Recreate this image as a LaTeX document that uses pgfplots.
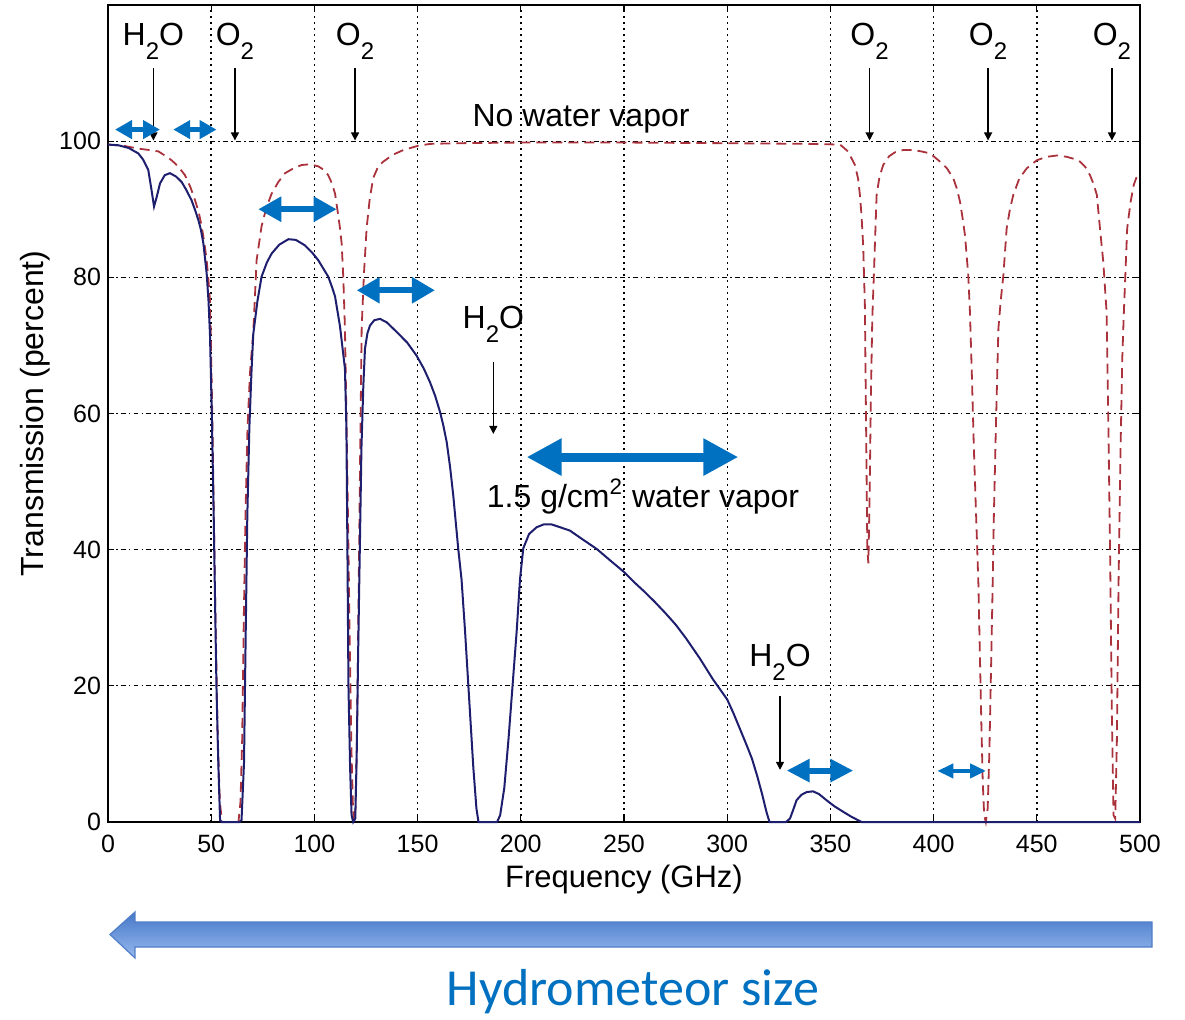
\documentclass[border=0pt]{standalone}
\usepackage{pgfplots}
\pgfplotsset{compat=1.18}
\usepackage{fontspec}
\setmainfont{Liberation Sans}
\newfontfamily\carlito{Carlito}
\usetikzlibrary{arrows.meta}
\definecolor{navyc}{RGB}{30,30,110}
\definecolor{redc}{RGB}{170,50,60}
\definecolor{obl}{RGB}{0,112,192}
\newcommand{\HtwoO}{H\raisebox{-7pt}{\fontsize{12}{12}\selectfont 2}O}
\newcommand{\Otwo}{O\raisebox{-7pt}{\fontsize{12}{12}\selectfont 2}}
\pgfplotstableread{
x y
0 99.5
5 99.4
10 99.0
14.7 98.2
17 97.3
19.5 95.8
21 93.0
22.3 90.4
23.6 91.8
25.2 93.8
27.5 95.0
30 95.3
33 94.8
35.7 94.0
38 92.8
40.5 91.3
42.3 89.8
43.8 88.4
45 87
46.2 85
47.8 80.6
48.7 76.5
49.4 71.7
50.3 60
51.2 45
52 30
52.6 19
53.5 8
54.3 0.3
55 0
63.8 0
64.7 0.3
65.9 8.7
66.7 27.3
67.5 45
68.5 58
69.5 66
70.4 71.7
72.4 76.5
74.4 80.1
77 82.2
79.3 83.5
83 84.8
87.4 85.6
91 85.5
95.4 84.7
99 83.6
101.9 82.5
104.5 81.2
106.7 80.1
108.5 78.6
110 77.2
112.4 72.8
114.8 66.6
115.5 58
116 40
116.5 20
117.3 8
118 1
118.8 0
119.8 0.5
120.5 10
121.2 25
122 40
122.8 55
123.7 64
124.5 69.5
125.7 71.8
126.9 72.9
129 73.7
131.8 73.9
135 73.4
139.8 72
145 70.4
149.5 68.5
153 66.6
156 64.6
158.5 62.6
160.9 60.2
162.5 58.2
164.1 55.8
165.8 52
167.3 47.9
168.5 44
169.7 40.1
171.3 35.6
173 28
175 18
177 8
178.5 2
179.5 0
188.5 0
190 1
192 5
194 12
196 20
198 28
199.6 35.6
201.2 40.2
204 42.3
207.7 43.3
211 43.7
215 43.7
219 43.3
223.8 42.8
230 41.5
236.8 40.1
243 38.5
249.7 36.8
255 35.2
260 33.8
265 32.3
270 30.7
275 29.0
280 27.0
286.8 24
293 21
300 18
303 16
306 13.8
309 11.6
312 9.3
314.5 6.8
317 4
319 1.5
320.5 0
328.5 0
330.4 0.5
332 1.8
333.6 3.2
336 4
338.5 4.4
341.6 4.5
344.5 4.1
348.1 3.2
352 2.3
356.2 1.5
360 0.8
365.1 0
500 0
}\wetdata
\pgfplotstableread{
x y
0 99.5
8 99.3
14.7 98.9
20 98.7
24.4 98.5
27.5 97.9
30.8 97.2
34 96.3
37.3 95.0
40 93.2
42.2 91.3
44 89.5
45.4 87.5
46.7 85
47.8 82.5
48.7 79.5
49.4 76.6
49.8 71.7
50.5 60
51.3 45
52.2 28
53.2 12
54.2 3
55.2 0
63.2 0
64.2 3
65 12
65.8 30
66.6 45
67.6 58
68.8 66
70.4 72
72 82.5
74.4 87.5
76.8 90.3
79.3 92.3
82.5 94
85.8 95.3
89.8 96.0
93.8 96.5
97.8 96.6
101.9 96.3
104.5 95.8
106.7 95
108.5 93.8
110 92.3
111.6 89
112.4 87.2
113.2 85
114 80
114.8 72.5
115.6 58
116.4 42
117.2 25
118 10
118.7 2
119.3 0
119.9 2
120.6 12
121.3 30
122.1 52
122.9 72.5
124 80.5
125.3 87.2
126.8 91.5
128.5 94.6
130.8 96.2
133.4 97
138 98
143.1 98.7
150 99.3
156 99.6
170 99.7
200 99.8
250 99.8
300 99.7
340 99.6
354.7 99.5
358.5 98.5
361.9 96.5
363.4 94.5
364.3 92.1
365.1 89
365.9 84.5
366.7 76
367.3 58
367.9 40
368.4 38
369 48
369.6 62
370.3 74
371 79.8
371.7 86
372.4 92.1
373.8 94.8
375.6 96.5
378.5 97.8
381.5 98.4
385.3 98.7
390 98.7
394 98.5
398.3 98.2
403.1 97
406.5 96
409.6 94.5
411.3 93
412.8 91.1
414 88.8
415.2 86.2
416.8 80.3
417.6 75
418.6 65
419.5 55
420.6 45
421.7 35
422.4 25
423.1 15
423.8 6
424.5 1
425.3 0
426.2 2
427 10
427.8 22
428.5 33
429.2 45
430.1 57
431.4 72.5
432.5 76.5
433.8 80.3
435.4 87.2
437 90
438.6 92.1
441.5 94.5
445.1 96
450 97.2
454.8 97.7
459.8 97.9
464.5 97.7
468 97.4
470.9 97
473.5 96.2
475.8 95
477.5 93.7
479.1 92.1
480.6 87.2
482.2 82.3
483.8 75
484.6 60
485.5 40
486.4 15
487.2 1
488 0.5
488.8 12
489.6 35
490.6 55
491.4 68
492.2 75
493.8 87.2
495.4 91
497 93.6
498.2 94.6
499.4 95
500 95.2
}\drydata
\begin{document}
\begin{tikzpicture}
\begin{axis}[name=ax, scale only axis, width=516pt, height=408.5pt,
  xmin=0, xmax=500, ymin=0, ymax=120,
  xtick={0,50,...,500}, ytick={0,20,...,100},
  grid=major,
  x grid style={black, line width=0.7pt, dash pattern=on 0.8pt off 2.2pt},
  y grid style={black, line width=0.6pt, dash pattern=on 2.4pt off 1.6pt on 0.8pt off 1.6pt},
  tick align=inside, major tick length=3pt,
  axis line style={line width=0.6pt},
  every tick/.style={black, line width=0.6pt},
  tick label style={font=\fontsize{12.5}{14}\selectfont},
  xticklabel style={yshift=-3pt},
  /pgf/number format/assume math mode=true,
  xlabel={Frequency (GHz)}, ylabel={Transmission (percent)},
  xlabel style={font=\fontsize{15.5}{18}\selectfont, at={(axis description cs:0.5,-0.0698)}, anchor=center},
  ylabel style={font=\fontsize{16}{18}\selectfont, at={(axis description cs:-0.0707,0.5)}, anchor=center},
  clip=false]
\addplot[redc, line width=0.9pt, dash pattern=on 5pt off 3pt] table[x=x,y=y] {\drydata};
\addplot[navyc, line width=1pt] table[x=x,y=y] {\wetdata};
% labels
\tikzset{lbl/.style={anchor=base, font=\fontsize{16}{18}\selectfont, inner sep=0pt},
  blk/.style={-{Triangle[length=4pt,width=4pt]}, line width=0.6pt, black}}
\node[lbl] at (axis cs:22,114) {\HtwoO};
\node[lbl] at (axis cs:61.5,114) {\Otwo};
\node[lbl] at (axis cs:119.7,114) {\Otwo};
\node[lbl] at (axis cs:369,114) {\Otwo};
\node[lbl] at (axis cs:426.4,114) {\Otwo};
\node[lbl] at (axis cs:486.4,114) {\Otwo};
\draw[blk] (axis cs:22,110.75) -- (axis cs:22,100.1);
\draw[blk] (axis cs:61.5,110.75) -- (axis cs:61.5,100.1);
\draw[blk] (axis cs:119.7,110.75) -- (axis cs:119.7,100.1);
\draw[blk] (axis cs:369,110.75) -- (axis cs:369,100.1);
\draw[blk] (axis cs:426.4,110.75) -- (axis cs:426.4,100.1);
\draw[blk] (axis cs:486.4,110.75) -- (axis cs:486.4,100.1);
\node[lbl] at (axis cs:186.7,72.5) {\HtwoO};
\draw[blk] (axis cs:186.7,67.6) -- (axis cs:186.7,57.0);
\node[lbl] at (axis cs:325.6,22.9) {\HtwoO};
\draw[blk] (axis cs:325.6,18.45) -- (axis cs:325.6,7.66);
\node[lbl] at (axis cs:229.2,102.2) {No water vapor};
\node[lbl, anchor=base west] at (axis cs:183.4,46.2) {1.5 g/cm\textsuperscript{2} water vapor};
% blue double arrows
\draw[obl, line width=2.5pt, {Triangle[length=8.5pt,width=9pt]}-{Triangle[length=8.5pt,width=9pt]}] (axis cs:3.4,101.7) -- (axis cs:25.2,101.7);
\draw[obl, line width=2.5pt, {Triangle[length=8.5pt,width=9pt]}-{Triangle[length=8.5pt,width=9pt]}] (axis cs:31.6,101.7) -- (axis cs:52.6,101.7);
\draw[obl, line width=3pt, {Triangle[length=11.5pt,width=12pt]}-{Triangle[length=11.5pt,width=12pt]}] (axis cs:72.8,90) -- (axis cs:110.8,90);
\draw[obl, line width=3pt, {Triangle[length=11.5pt,width=12.5pt]}-{Triangle[length=11.5pt,width=12.5pt]}] (axis cs:120.5,78.1) -- (axis cs:158.4,78.1);
\draw[obl, line width=4.5pt, {Triangle[length=17.5pt,width=17.5pt]}-{Triangle[length=17.5pt,width=17.5pt]}] (axis cs:202.8,53.6) -- (axis cs:305.4,53.6);
\draw[obl, line width=3pt, {Triangle[length=11.5pt,width=11pt]}-{Triangle[length=11.5pt,width=11pt]}] (axis cs:328.8,7.55) -- (axis cs:361.1,7.55);
\draw[obl, line width=2pt, {Triangle[length=8pt,width=7pt]}-{Triangle[length=8pt,width=7pt]}] (axis cs:401.8,7.5) -- (axis cs:425.4,7.5);
\end{axis}
\begin{scope}[shift={(ax.south west)}]
\shadedraw[top color={rgb,255:red,70;green,120;blue,200}, bottom color={rgb,255:red,150;green,185;blue,238}, draw={rgb,255:red,80;green,125;blue,200}, line width=0.6pt]
 (1pt,-56.25pt) -- (13.5pt,-45pt) -- (13.5pt,-50pt) -- (522pt,-50pt) -- (522pt,-62.5pt) -- (13.5pt,-62.5pt) -- (13.5pt,-68pt) -- cycle;
\node[anchor=base, text=obl, font=\carlito\fontsize{26}{30}\selectfont, inner sep=0pt] at (262.5pt,-91.5pt) {Hydrometeor size};
\end{scope}
\pgfresetboundingbox
\path[use as bounding box] ([shift={(-54pt,-98.5pt)}]ax.south west) rectangle ([shift={(538.5pt,411pt)}]ax.south west);
\end{tikzpicture}
\end{document}
